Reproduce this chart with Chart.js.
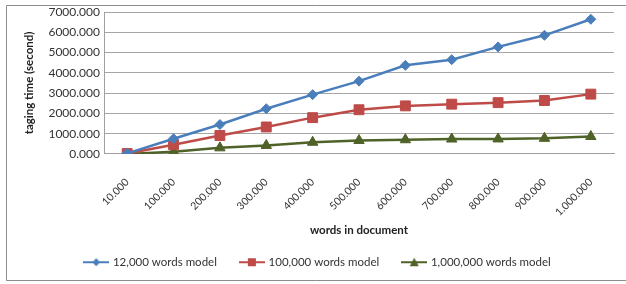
<!DOCTYPE html>
<html>
<head>
<meta charset="utf-8">
<script src="https://cdn.jsdelivr.net/npm/chart.js@4.4.0/dist/chart.umd.min.js"></script>
<style>
  html, body { margin: 0; padding: 0; background: #fff; }
  #wrap { width: 626px; height: 284px; }
</style>
</head>
<body>
<div id="wrap"><canvas id="chart" width="626" height="284"></canvas></div>
<script>
// --- data ---
const wordCounts = ['10.000', '100.000', '200.000', '300.000', '400.000', '500.000',
                    '600.000', '700.000', '800.000', '900.000', '1.000.000'];
const model12k  = [30, 750, 1450, 2230, 2925, 3590, 4370, 4650, 5280, 5850, 6640];
const model100k = [20, 455, 910, 1330, 1790, 2180, 2370, 2455, 2530, 2635, 2950];
const model1m   = [0, 105, 300, 420, 575, 665, 700, 735, 740, 770, 860];
const seriesNames = ['12,000 words model', '100,000 words model', '1,000,000 words model'];
const yTicks = [0, 1000, 2000, 3000, 4000, 5000, 6000, 7000];
const xTitle = 'words in document';
const yTitle = 'taging time (second)';

const BLUE = '#4a7ebb', RED = '#be4b48', GREEN = '#4f6228';
const FONT = 'Lato, "Open Sans", sans-serif';

// little line+marker picture for the legend, like Excel draws it
function legendIcon(color, style) {
    const c = document.createElement('canvas');
    c.width = 26; c.height = 12;
    const g = c.getContext('2d');
    g.strokeStyle = color; g.lineWidth = 2;
    g.beginPath(); g.moveTo(0, 6); g.lineTo(26, 6); g.stroke();
    g.fillStyle = color;
    g.beginPath();
    if (style === 'rectRot') { g.moveTo(13, 2); g.lineTo(17, 6); g.lineTo(13, 10); g.lineTo(9, 6); }
    else if (style === 'rect') { g.rect(9, 2, 8, 8); }
    else { g.moveTo(13, 1.5); g.lineTo(17.5, 10); g.lineTo(8.5, 10); }
    g.closePath(); g.fill();
    return c;
}

// grey frame round the chart (open on the right like the scan),
// and the x title, drawn into the gap above the legend
const extrasPlugin = {
    id: 'extras',
    beforeDraw(chart) {
        const ctx = chart.ctx;
        ctx.save();
        ctx.strokeStyle = '#8c8c8c'; ctx.lineWidth = 1;
        ctx.beginPath();
        ctx.moveTo(626, 5.5); ctx.lineTo(6.5, 5.5); ctx.lineTo(6.5, 280.5); ctx.lineTo(626, 280.5);
        ctx.stroke();
        ctx.restore();
    },
    afterDraw(chart) {
        const ctx = chart.ctx, area = chart.chartArea;
        ctx.save();
        ctx.font = 'bold 11.5px ' + FONT;
        ctx.fillStyle = '#222';
        ctx.textAlign = 'center';
        ctx.textBaseline = 'middle';
        ctx.fillText(xTitle, (area.left + area.right) / 2, chart.scales.x.bottom - 2);
        ctx.restore();
    }
};

const styles = ['rectRot', 'rect', 'triangle'];
const colors = [BLUE, RED, GREEN];
const radii = [5, 7, 6];
const icons = styles.map((s, i) => legendIcon(colors[i], s));

new Chart(document.getElementById('chart'), {
    type: 'line',
    data: {
        labels: wordCounts,
        datasets: [model12k, model100k, model1m].map((d, i) => ({
            label: seriesNames[i],
            data: d,
            borderColor: colors[i],
            backgroundColor: colors[i],
            borderWidth: 2.5,
            pointStyle: styles[i],
            pointRadius: radii[i],
            pointBorderWidth: 1,
            tension: 0
        }))
    },
    options: {
        responsive: false,
        animation: false,
        layout: { padding: { left: 22, right: 12, top: 12, bottom: 6 } },
        plugins: {
            legend: {
                position: 'bottom',
                labels: {
                    usePointStyle: true,
                    pointStyleWidth: 22,
                    padding: 24,
                    color: '#333',
                    font: { family: FONT, size: 11.5 },
                    generateLabels: chart => chart.data.datasets.map((ds, i) => ({
                        text: ds.label,
                        pointStyle: icons[i],
                        fontColor: '#333',
                        datasetIndex: i,
                        hidden: false
                    }))
                }
            },
            tooltip: { enabled: false }
        },
        scales: {
            x: {
                offset: true,
                grid: { display: false },
                border: { color: '#a0a0a0' },
                ticks: { color: '#333', font: { family: FONT, size: 10.5 }, autoSkip: false,
                         maxRotation: 45, minRotation: 45, padding: 14 }
            },
            y: {
                min: 0, max: 7000,
                afterBuildTicks: axis => { axis.ticks = yTicks.map(v => ({ value: v })); },
                afterFit: scale => { scale.width = 82; },
                grid: { color: '#a6a6a6', drawTicks: false },
                border: { color: '#a0a0a0' },
                ticks: { color: '#333', font: { family: FONT, size: 12 }, padding: 4, autoSkip: false,
                         callback: v => v.toFixed(3) },
                title: { display: true, text: yTitle, color: '#222',
                         font: { family: FONT, size: 11.5, weight: 'bold' }, padding: 0 }
            }
        }
    },
    plugins: [extrasPlugin]
});
</script>
</body>
</html>
